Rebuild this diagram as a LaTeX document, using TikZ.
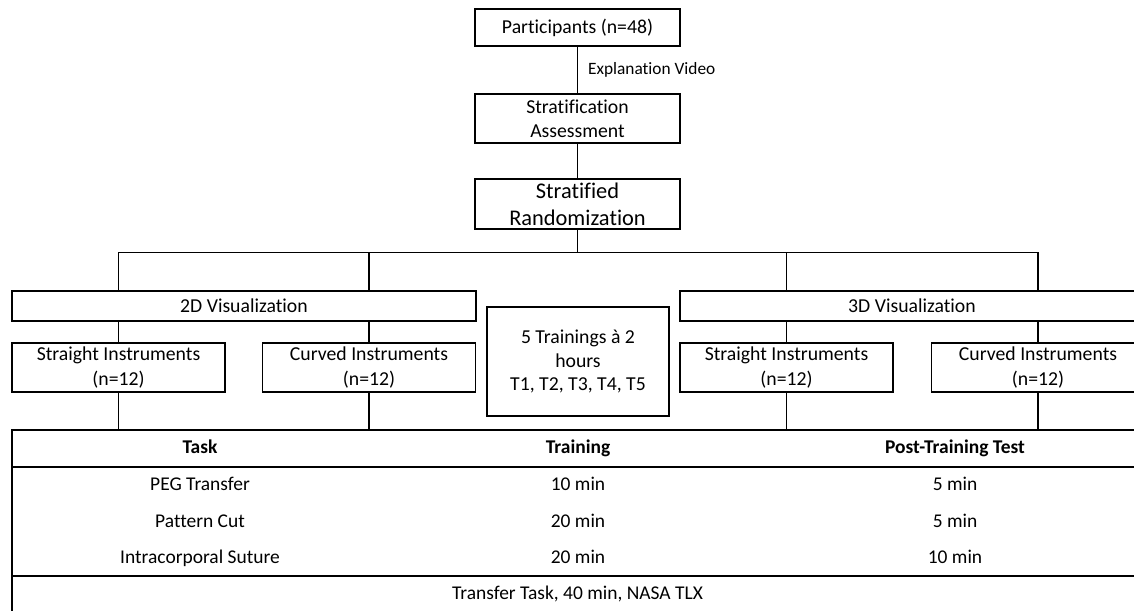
\documentclass[tikz,border=0pt]{standalone}
\usepackage{fontspec}
\setmainfont{Carlito}[Ligatures=NoCommon]
\usetikzlibrary{positioning}

\tikzset{
	link/.style={line width=0.9pt},
	box/.style={draw, line width=0.9pt, align=center, inner sep=0pt, font=\fontsize{14.8}{18}\selectfont},
	topbox/.style={box, minimum width=153.75pt},
	visbox/.style={box, minimum width=348pt, minimum height=22.5pt},
	instbox/.style={box, minimum width=159.75pt, minimum height=36.75pt, font=\fontsize{14.8}{19.3}\selectfont},
	cell/.style={draw, line width=0.9pt, minimum width=849.75pt, inner sep=0pt},
	txt/.style={inner sep=0pt, text height=10.5pt, text depth=3pt, font=\fontsize{14.6}{18}\selectfont}
}

\begin{document}
\begin{tikzpicture}[x=0.75pt, y=-0.75pt]
	\useasboundingbox (0,0) rectangle (1134,610);
	\clip (0,0) rectangle (1134,610);

	\node[topbox, minimum height=27.75pt] (part) at (577.5,27.5) {Participants (n=48)};
	\node[topbox, minimum height=36.75pt] (assess) at (577.5,118.5) {Stratification\\Assessment};
	\node[topbox, minimum height=37.5pt, font=\fontsize{16.8}{20.3}\selectfont] (rand) at (577.5,204) {Stratified\\Randomization};
	\coordinate (bar) at (577.5,252.5);

	\node[visbox] (vis2d) at (244,306) {2D Visualization};
	\node[visbox] (vis3d) at (912,306) {3D Visualization};

	\node[instbox] (st2d) at (118.5,367.5) {Straight Instruments\\(n=12)};
	\node[instbox] (cu2d) at (369,367.5) {Curved Instruments\\(n=12)};
	\node[instbox] (st3d) at (786.5,367.5) {Straight Instruments\\(n=12)};
	\node[instbox] (cu3d) at (1038,367.5) {Curved Instruments\\(n=12)};

	\node[box, minimum width=136.5pt, minimum height=81.75pt, font=\fontsize{14.8}{17.8}\selectfont] (train) at (578,361.5) {5 Trainings à 2\\hours\\T1, T2, T3, T4, T5};

	\node[cell, minimum height=27.75pt] (head) at (578.5,448.5) {};
	\node[cell, minimum height=81.75pt] (body) at (578.5,521.5) {};
	\node[cell, minimum height=48pt] (foot) at (578.5,608) {};

	\draw[link] (part) -- node[right=7.5pt, inner sep=0pt, font=\fontsize{13}{15}\selectfont] {Explanation Video} (assess);
	\draw[link] (assess) -- (rand);
	\draw[link] (rand) -- (bar);
	\draw[link] (st2d |- vis2d.north) -- (st2d |- bar) -- (cu3d |- bar) -- (cu3d |- vis3d.north);
	\draw[link] (cu2d |- bar) -- (cu2d |- vis2d.north);
	\draw[link] (st3d |- bar) -- (st3d |- vis3d.north);

	\foreach \n/\v in {st2d/vis2d, cu2d/vis2d, st3d/vis3d, cu3d/vis3d}{
			\draw[link] (\n |- \v.south) -- (\n);
			\draw[link] (\n) -- (\n |- head.north);
		}

	\foreach \x/\hd/\a/\b/\c [count=\i] in {200/Task/PEG Transfer/Pattern Cut/Intracorporal Suture, 578/Training/10 min/20 min/20 min, 955/Post-Training Test/5 min/5 min/10 min}{
			\node[txt, font=\fontsize{14.6}{18}\selectfont\bfseries] (hd\i) at (\x,448) {\hd};
			\node[txt] (ra\i) at (\x,485) {\a};
			\node[txt] (rb\i) at (\x,522) {\b};
			\node[txt] (rc\i) at (\x,558) {\c};
		}
	\node[txt] (xfer) at (577.5,594) {Transfer Task, 40 min, NASA TLX};
\end{tikzpicture}
\end{document}
